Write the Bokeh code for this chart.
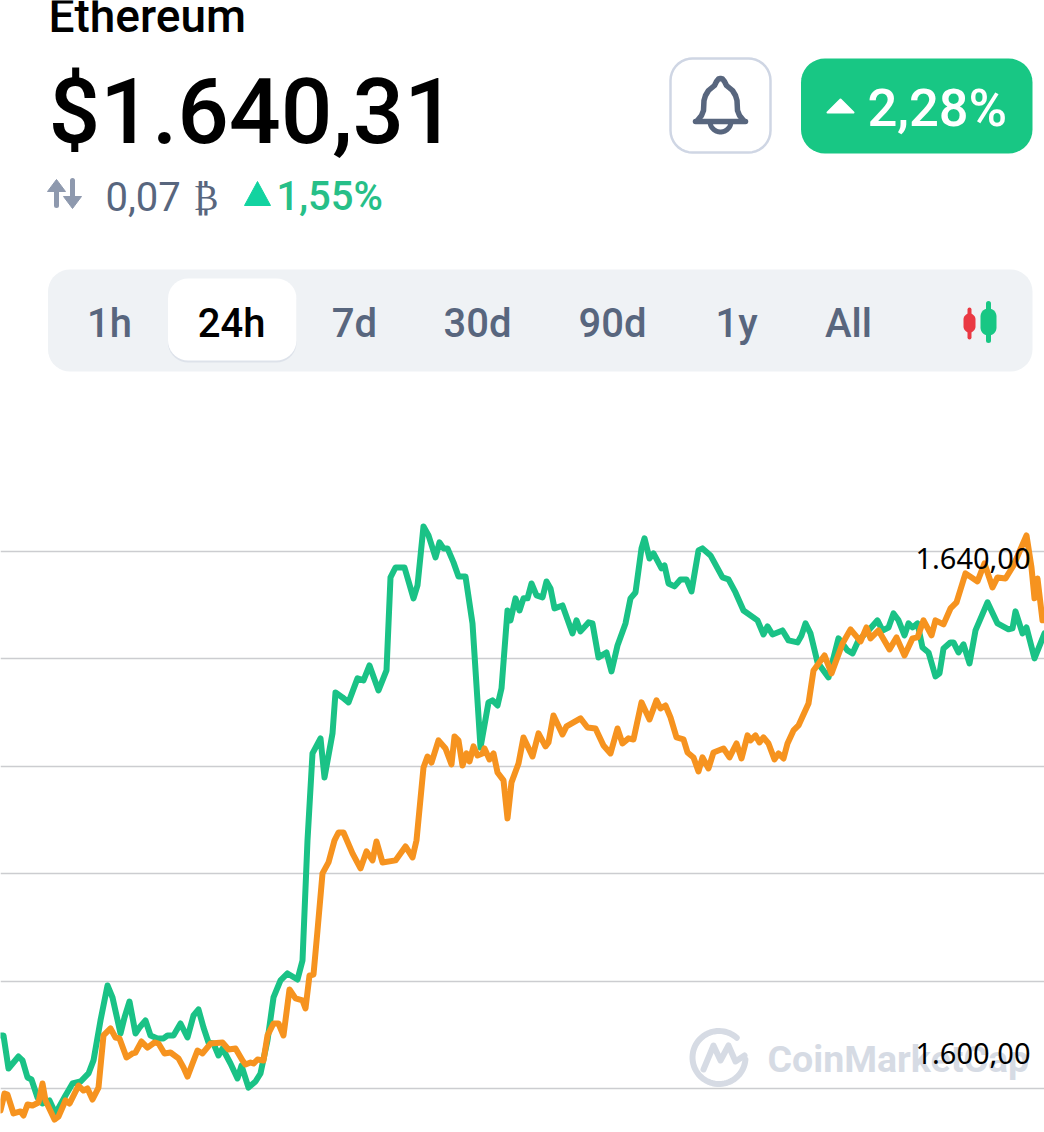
import numpy as np
from bokeh.plotting import figure
from bokeh.models import Range1d, FixedTicker
from bokeh.core.properties import value
from bokeh.embed import file_html
from bokeh.resources import INLINE

# ---- data -------------------------------------------------------------
grid_prices = [1600, 1608, 1616, 1624, 1632, 1640]
price_labels = ["1.640,00", "1.600,00"]
tab_labels = ["1h", "24h", "7d", "30d", "90d", "1y", "All"]
coin_name = "Ethereum"
price_text = "$1.640,31"
btc_text = "0,07"
btc_symbol = "₿"
btc_change = "1,55%"
day_change = "2,28%"
watermark = "CoinMarketCap"

t_green = [0,3,8,18,22,27,31,37,42,49,55,65,72,80,88,93,100,107,112,120,124,129,135,139,145,150,157,163,167,173,180,187,193,198,203,208,213,218,222,230,237,241,248,255,260,267,273,280,287,297,302,307,312,320,324,332,335,342,348,357,363,369,378,386,390,395,404,413,417,423,428,435,439,443,447,453,458,465,472,480,488,492,497,501,507,510,515,519,523,527,531,536,542,546,550,554,562,572,576,580,588,592,598,606,611,617,625,630,635,641,644,649,653,661,664,668,674,680,686,691,698,702,710,722,728,735,743,757,763,767,772,782,788,797,801,805,810,817,828,838,847,852,858,868,877,882,888,893,898,904,908,912,917,922,928,935,939,943,950,953,958,963,969,975,987,997,1008,1012,1015,1022,1026,1034,1044]
p_green = [1603.95,1603.95,1601.49,1602.38,1602.09,1600.82,1600.67,1599.33,1598.88,1599.11,1598.14,1599.48,1600.37,1600.52,1601.12,1602.09,1605.07,1607.67,1606.78,1604.10,1605.29,1606.48,1604.10,1604.54,1605.07,1603.95,1603.73,1603.73,1603.95,1603.95,1604.84,1603.80,1605.44,1605.89,1604.54,1603.43,1603.35,1602.46,1602.98,1601.86,1600.75,1601.71,1600.07,1600.52,1601.12,1603.58,1606.78,1608.05,1608.57,1608.12,1609.54,1618.48,1624.96,1626.08,1623.17,1626.45,1629.50,1629.13,1628.76,1630.55,1630.40,1631.51,1629.65,1631.14,1638.07,1638.81,1638.81,1636.51,1637.47,1641.87,1641.20,1639.56,1640.68,1640.23,1640.23,1639.19,1638.14,1638.14,1634.64,1625.40,1628.76,1628.91,1628.53,1629.80,1635.61,1634.87,1636.51,1635.61,1636.51,1636.51,1637.62,1636.73,1636.58,1637.77,1637.25,1635.76,1635.98,1633.90,1634.87,1634.05,1634.72,1634.64,1632.11,1632.48,1631.07,1633.00,1634.64,1636.51,1636.95,1640.23,1640.98,1639.48,1639.86,1638.74,1638.96,1637.62,1637.40,1637.92,1637.92,1637.03,1640.08,1640.23,1639.71,1638.07,1637.92,1636.95,1635.61,1634.87,1633.82,1634.42,1633.82,1634.12,1633.38,1633.23,1633.75,1634.64,1633.90,1631.74,1630.62,1633.53,1632.63,1632.41,1633.38,1634.12,1634.87,1634.12,1634.34,1635.39,1634.87,1633.75,1634.64,1634.34,1634.64,1632.85,1632.48,1630.69,1630.92,1632.78,1633.23,1633.23,1632.48,1633.08,1631.66,1634.12,1636.21,1634.64,1634.20,1634.27,1635.54,1633.90,1634.34,1632.04,1633.90]

t_orange = [0,4,7,13,20,23,27,32,38,42,45,54,58,65,69,78,83,87,92,98,103,110,115,119,126,132,135,141,147,154,158,164,170,178,183,187,192,197,202,210,222,228,235,242,245,250,253,257,263,267,273,278,283,289,295,302,305,309,313,317,322,328,334,338,343,352,360,366,372,376,382,395,405,412,416,423,427,431,438,445,451,454,458,462,466,469,473,477,482,484,489,493,497,503,507,511,518,523,532,538,545,548,553,562,566,580,587,595,603,610,617,622,628,633,641,649,656,660,665,670,676,683,687,693,698,702,708,713,723,729,736,741,747,750,755,759,763,768,774,778,783,787,793,798,808,813,824,831,842,850,860,866,870,878,889,896,904,912,917,923,931,935,943,950,956,965,977,984,992,997,1005,1013,1026,1031,1034,1037,1042,1044]
p_orange = [1598.36,1599.63,1599.55,1598.14,1598.29,1597.99,1598.81,1598.73,1598.96,1600.37,1599.11,1597.69,1597.91,1599.11,1598.88,1600.22,1599.85,1600.00,1599.18,1600.07,1603.95,1604.47,1603.80,1603.73,1602.31,1602.61,1602.68,1603.50,1603.05,1603.43,1603.35,1602.61,1602.68,1602.24,1601.56,1600.89,1601.86,1602.83,1602.61,1603.35,1603.43,1602.91,1602.98,1602.09,1601.79,1601.94,1601.86,1602.16,1602.09,1603.95,1604.84,1604.84,1603.95,1607.38,1606.71,1606.56,1605.96,1608.42,1608.49,1611.77,1616.02,1616.84,1618.48,1619.07,1619.07,1617.51,1616.39,1617.66,1616.99,1618.40,1616.84,1616.99,1618.03,1617.21,1618.48,1623.91,1624.73,1624.28,1625.93,1625.33,1624.14,1626.22,1625.93,1624.06,1624.96,1624.36,1625.48,1624.81,1624.96,1625.33,1624.51,1624.96,1623.54,1622.95,1620.12,1622.80,1624.21,1626.15,1624.73,1626.45,1625.48,1625.78,1627.79,1626.37,1626.97,1627.57,1626.89,1626.82,1625.55,1624.96,1626.82,1625.70,1626.08,1626.00,1628.76,1627.49,1628.91,1628.31,1628.53,1627.64,1626.15,1626.00,1625.03,1624.66,1623.62,1624.66,1623.84,1625.03,1625.33,1624.66,1625.70,1624.58,1626.30,1625.93,1626.30,1625.78,1626.15,1625.70,1624.51,1624.96,1624.58,1625.70,1626.67,1627.04,1628.68,1631.14,1632.26,1630.92,1633.15,1634.20,1633.30,1634.34,1633.53,1634.12,1632.71,1633.60,1632.26,1633.53,1633.60,1634.87,1633.75,1634.87,1634.57,1635.76,1636.21,1638.37,1637.77,1639.11,1637.32,1638.07,1637.99,1638.96,1641.20,1638.81,1636.51,1637.99,1634.87,1634.87]

# ---- style ------------------------------------------------------------
GREEN = "#1ac286"; ORANGE = "#f6931f"; GREY = "#58667e"; PANEL = "#eff2f5"
BADGE = "#18c784"; WM = "#d6dbe4"
FONT = "Roboto"; MED = "Roboto Medium"
W, H = 1044, 1124
PX_PER_USD = 13.425
Y_TOP = 1600 + 1088 / PX_PER_USD
Y_BOT = 1600 - (H - 1088) / PX_PER_USD

p = figure(width=W, height=H, output_backend="svg", toolbar_location=None,
           x_range=Range1d(0, W), y_range=Range1d(Y_BOT, Y_TOP),
           min_border=0, outline_line_color=None, background_fill_color="white",
           border_fill_color="white")
p.extra_y_ranges = {"ui": Range1d(H, 0)}
p.xaxis.visible = False
p.yaxis.visible = False
p.xgrid.visible = False
p.ygrid.ticker = FixedTicker(ticks=grid_prices)
p.ygrid.grid_line_color = "#cccdd0"
p.ygrid.grid_line_width = 1.5


def rrect(x0, y0, x1, y1, r, n=10):
    a = np.linspace(0, np.pi / 2, n)
    xs = np.concatenate([x0 + r - r * np.cos(a), x1 - r + r * np.sin(a),
                         x1 - r + r * np.cos(a), x0 + r - r * np.sin(a)])
    ys = np.concatenate([y0 + r - r * np.sin(a), y0 + r - r * np.cos(a),
                         y1 - r + r * np.sin(a), y1 - r + r * np.cos(a)])
    return xs, ys


def box(x0, y0, x1, y1, r, fill, line=None, lw=0):
    xs, ys = rrect(x0, y0, x1, y1, r)
    p.patch(xs, ys, fill_color=fill, line_color=line, line_width=lw, y_range_name="ui")


def label(x, y, s, size, color, font=FONT, align="left", style="normal"):
    # y is the wanted baseline; the renderer sets alphabetic text about a third of an em low
    p.text([x], [y - 0.33 * size], text=[s], text_font=value(font), text_font_size=f"{size}px",
           text_color=color, text_align=align, text_baseline="alphabetic",
           text_font_style=style, y_range_name="ui")


def stroke(xs, ys, color, lw):
    p.line(xs, ys, line_color=color, line_width=lw, line_join="round", line_cap="round",
           y_range_name="ui")


# header
label(48, 31, coin_name, 46, "#000000", MED)
label(48, 142, price_text, 91, "#000000", MED)
# swap arrows
ARW = "#8e99ae"
stroke([56, 56], [205, 184], ARW, 5)
p.patch([47, 56, 65], [191, 179, 191], fill_color=ARW, line_color=ARW, line_join="round", y_range_name="ui")
stroke([72, 72], [180, 201], ARW, 5)
p.patch([63, 72, 81], [196, 208, 196], fill_color=ARW, line_color=ARW, line_join="round", y_range_name="ui")
label(105, 209, btc_text, 40, GREY)
label(193, 209, btc_symbol, 36, GREY, "DejaVu Sans")
p.patch([244, 257, 270], [205, 181, 205], fill_color="#12d3a0", line_color="#12d3a0", line_join="round", y_range_name="ui")
label(276, 209, btc_change, 40, "#27bf88", MED)

# bell button
box(670, 58, 770, 152, 22, "#ffffff", "#cfd6e4", 2.5)
BELL = "#58667e"
bx = [697, 701, 703, 703.5, 705, 708, 714, 716, 718, 720, 722, 724, 726, 732, 735, 736.5, 737, 739, 743]
by = [120, 115, 110, 100, 95, 90, 85, 81, 78.5, 78, 78.5, 81, 85, 90, 95, 100, 110, 115, 120]
stroke(bx, by, BELL, 5.5)
stroke([695, 745], [121, 121], BELL, 5.5)
a = np.linspace(0.05, np.pi - 0.05, 24)
stroke(720 + 10.5 * np.cos(a), 121 + 10.5 * np.sin(a), BELL, 5)

# badge
box(800.5, 58, 1032, 153, 24, BADGE)
p.patch([827, 840, 853], [112, 99, 112], fill_color="#ffffff", line_color="#ffffff", line_width=2, line_join="round", y_range_name="ui")
label(867, 125, day_change, 52.5, "#ffffff", MED)

# tabs
box(47.5, 269, 1032, 371, 22, PANEL)
box(167.5, 280, 296, 362, 20, "#dde2ea")
box(167.5, 278, 296, 360, 20, "#ffffff")
for tx, s in zip([109, 231, 354, 477, 612, 736, 848], tab_labels):
    label(tx, 336, s, 40, "#000000" if s == "24h" else GREY, MED, "center")
# candle icon
stroke([969, 969], [309, 337], "#ea3943", 4)
box(963, 313, 975, 332, 6, "#ea3943")
stroke([988, 988], [303, 340], BADGE, 5)
box(980, 308, 996, 335, 8, BADGE)

# watermark
a = np.linspace(np.radians(-5), np.radians(-312), 60)
stroke(718.5 + 26.5 * np.cos(a), 1057 - 26.5 * np.sin(a), WM, 6)
stroke([703, 713, 720, 728, 735, 744], [1069, 1045, 1060, 1045, 1061, 1055], WM, 6)
label(767, 1071, watermark, 37.5, WM, FONT, style="bold")

# series
p.line(t_green, p_green, line_color=GREEN, line_width=6, line_join="round", line_cap="round")
p.line(t_orange, p_orange, line_color=ORANGE, line_width=6, line_join="round", line_cap="round")

# price labels
label(1030, 567.5, price_labels[0], 29, "#000000", "Noto Sans", "right")
label(1030, 1062.5, price_labels[1], 29, "#000000", "Noto Sans", "right")

open("out.html", "w").write(file_html(p, INLINE))
